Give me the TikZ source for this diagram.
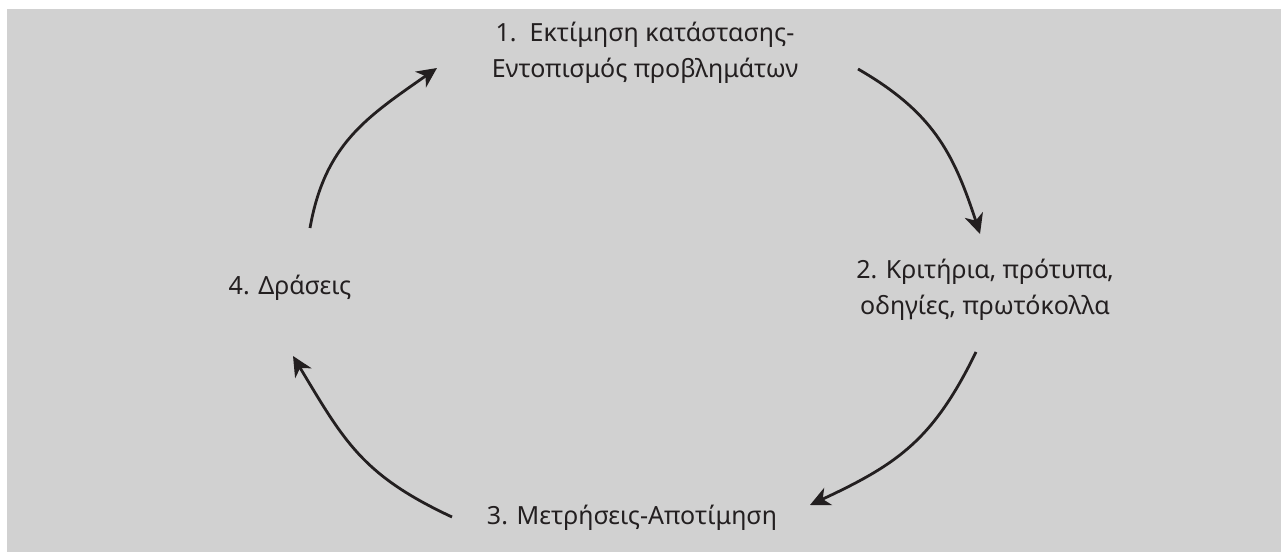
\documentclass[tikz,border=0pt]{standalone}
\usepackage{fontspec}
\setmainfont{Noto Sans}
\usetikzlibrary{arrows.meta}
\definecolor{bg}{HTML}{D1D1D1}
\definecolor{ink}{HTML}{231F20}
\tikzset{
  lbl/.style={text=ink, align=center, inner sep=0pt, font=\fontsize{25}{36}\selectfont},
  cyc/.style={draw=ink, line width=2.8pt, -{Stealth[length=20pt,width=19pt,inset=6pt]}}
}
\begin{document}
\begin{tikzpicture}[x=1pt,y=1pt]
\useasboundingbox (0,0) rectangle (1281,552);
\fill[white] (0,0) rectangle (1281,552);
\fill[bg] (7,0) rectangle (1281,543);
\node[lbl] (n1) at (645,499) {1.\ \ Εκτίμηση κατάστασης-\\Εντοπισμός προβλημάτων};
\node[lbl] (n2) at (985,262) {2. Κριτήρια, πρότυπα,\\οδηγίες, πρωτόκολλα};
\node[lbl] (n3) at (632,34) {3. Μετρήσεις-Αποτίμηση};
\node[lbl] (n4) at (290,264) {4. Δράσεις};
\coordinate (as) at (310,324);
\coordinate (ae) at (437,484);
\coordinate (bs) at (858,483);
\coordinate (be) at (980,318);
\coordinate (cs) at (976,200);
\coordinate (ce) at (810,47);
\coordinate (ds) at (452,35);
\coordinate (de) at (293,196);
\draw[cyc] (as) to[out=80,in=215,looseness=1.07] (ae);
\draw[cyc] (bs) to[out=-30,in=108,looseness=1.07] (be);
\draw[cyc] (cs) to[out=244,in=25,looseness=1.1] (ce);
\draw[cyc] (ds) to[out=155,in=301,looseness=1.12] (de);
\end{tikzpicture}
\end{document}
